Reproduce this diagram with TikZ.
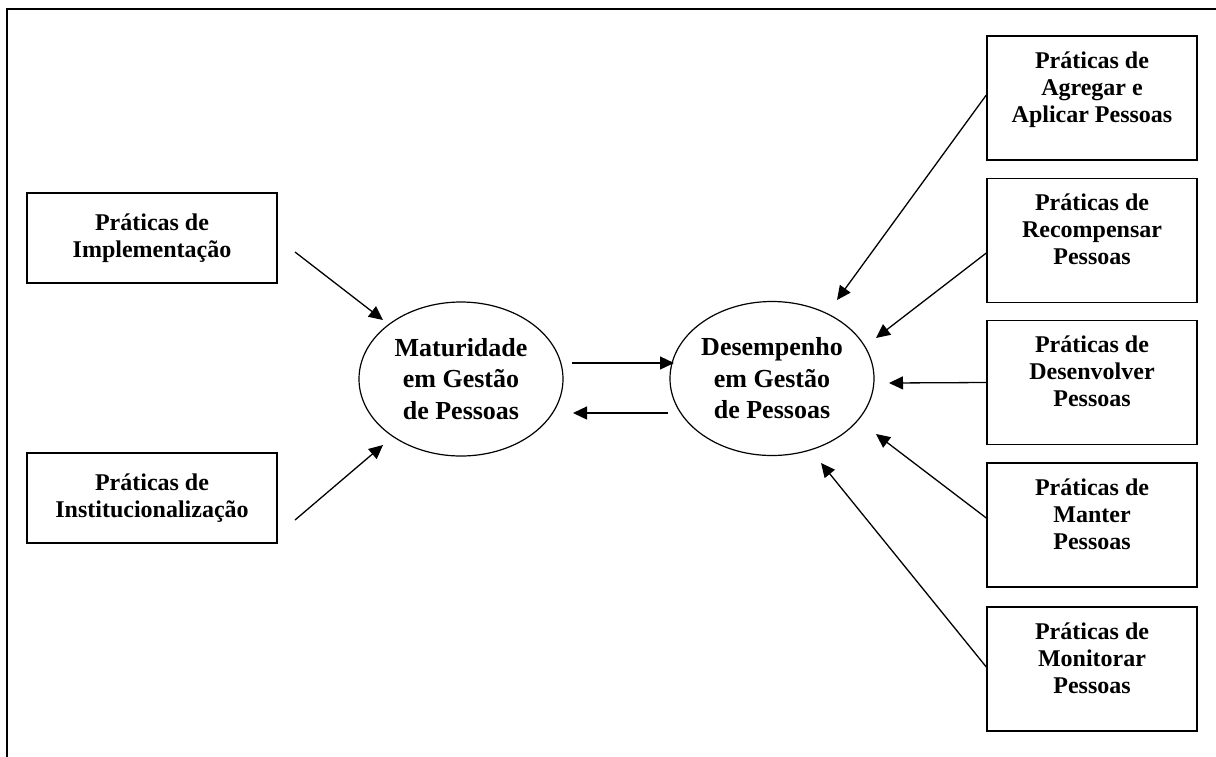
\documentclass[tikz,border=0pt]{standalone}
\usepackage{fontspec}
\setmainfont{Liberation Serif}
\usetikzlibrary{shapes.geometric,arrows.meta}
\tikzset{
  boxtxt/.style={font=\fontsize{24}{27}\selectfont\bfseries, align=center},
  lbox/.style={draw, line width=1.4pt, minimum width=250pt, minimum height=90pt, inner sep=0pt, boxtxt},
  rbox/.style={draw, line width=1.4pt, minimum width=210pt, minimum height=124pt, inner sep=0pt},
  rtxt/.style={anchor=north, yshift=-16pt, inner sep=0pt, boxtxt},
  oval/.style={draw, ellipse, line width=1.2pt, minimum width=204pt, minimum height=154pt, inner sep=0pt,
    font=\fontsize{26}{31.5}\selectfont\bfseries, align=center},
  arr/.style={line width=1.3pt, -{Triangle[length=14pt,width=13pt]}},
  frame/.style={line width=1.7pt}
}
\begin{document}
\begin{tikzpicture}[x=1pt,y=-1pt]
\useasboundingbox (0,0) rectangle (1216,756);
\clip (0,0) rectangle (1216,756);
\draw[frame] (7,9) rectangle (1240,780);

% left boxes
\node[lbox] (L1) at (152,238) {Práticas de\\Implementação};
\node[lbox] (L2) at (152,498) {Práticas de\\Institucionalização};

% ellipses
\node[oval] (M) at (461,379) {Maturidade\\em Gestão\\de Pessoas};
\node[oval] (D) at (772,378.5) {Desempenho\\em Gestão\\de Pessoas};

% right boxes
\node[rbox, label={[rtxt]north:{Práticas de\\Agregar e\\Aplicar Pessoas}}] (R1) at (1092,98) {};
\node[rbox, label={[rtxt]north:{Práticas de\\Recompensar\\Pessoas}}] (R2) at (1092,240.5) {};
\node[rbox, label={[rtxt]north:{Práticas de\\Desenvolver\\Pessoas}}] (R3) at (1092,382.5) {};
\node[rbox, label={[rtxt]north:{Práticas de\\Manter\\Pessoas}}] (R4) at (1092,525) {};
\node[rbox, label={[rtxt]north:{Práticas de\\Monitorar\\Pessoas}}] (R5) at (1092,669) {};

% free ends
\coordinate (l1s) at (295,252);
\coordinate (l1t) at (383,320);
\coordinate (l2s) at (295,520);
\coordinate (l2t) at (383,445);
\coordinate (mds) at (572,363);
\coordinate (mdt) at (674,363);
\coordinate (dms) at (668,413);
\coordinate (dmt) at (573,413);
\coordinate (r1t) at (837,300);
\coordinate (r2t) at (876,338);
\coordinate (r3t) at (889,383);
\coordinate (r4t) at (876,434);
\coordinate (r5t) at (821,463);

\draw[arr] (l1s) -- (l1t);
\draw[arr] (l2s) -- (l2t);
\draw[arr] (mds) -- (mdt);
\draw[arr] (dms) -- (dmt);
\draw[arr] ([yshift=3pt]R1.west) -- (r1t);
\draw[arr] ([yshift=-12.5pt]R2.west) -- (r2t);
\draw[arr] (R3.west) -- (r3t);
\draw[arr] ([yshift=7pt]R4.west) -- (r4t);
\draw[arr] ([yshift=2pt]R5.west) -- (r5t);
\end{tikzpicture}
\end{document}
